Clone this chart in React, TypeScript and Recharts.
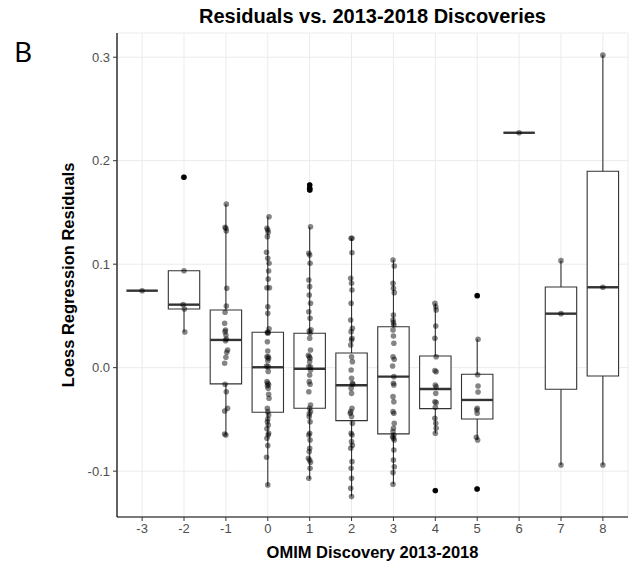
import React from "react";
import {
  ComposedChart,
  XAxis,
  YAxis,
  CartesianGrid,
  Scatter,
  ReferenceArea,
  ReferenceLine,
} from "recharts";

// categories on the x axis
const categories = [-3, -2, -1, 0, 1, 2, 3, 4, 5, 6, 7, 8];

// box statistics per category
const whiskerLow = [0.0744, 0.0345, -0.065, -0.1143, -0.1075, -0.1246, -0.1127, -0.0634, -0.0699, 0.227, -0.094, -0.094];
const quartile1 = [0.0744, 0.0567, -0.0157, -0.0431, -0.0392, -0.0512, -0.064, -0.0396, -0.0496, 0.227, -0.0209, -0.008];
const medians = [0.0744, 0.0609, 0.0268, 0.0004, -0.001, -0.017, -0.0087, -0.0206, -0.0312, 0.227, 0.0522, 0.0777];
const quartile3 = [0.0744, 0.0937, 0.0557, 0.0342, 0.0332, 0.0142, 0.0396, 0.0113, -0.0064, 0.227, 0.078, 0.1898];
const whiskerHigh = [0.0744, 0.0937, 0.158, 0.1459, 0.136, 0.125, 0.1041, 0.0622, 0.0274, 0.227, 0.1034, 0.302];

// outliers drawn by the boxplot [category, residual]
const outliers = [
  [-2, 0.184],
  [1, 0.1765],
  [1, 0.1733],
  [1, 0.1717],
  [4, -0.1188],
  [5, 0.0696],
  [5, -0.1172],
];

// jittered points per category: [x offset, residual]
const pointsM3 = [[0, 0.0744]];
const pointsM2 = [[-0.01, 0.184], [0, 0.0937], [-0.02, 0.0609], [0.01, 0.0567], [0.02, 0.0345]];
const pointsM1 = [
  [0.01, 0.158], [-0.02, 0.1357], [0, 0.1347], [0.01, 0.132], [0.02, 0.0767], [0.01, 0.0596],
  [-0.02, 0.0535], [-0.03, 0.0429], [-0.01, 0.0364], [-0.02, 0.0348], [0, 0.0316], [0.01, 0.0277],
  [-0.01, 0.0261], [0.04, 0.0171], [0.02, 0.0149], [0, 0.01], [-0.03, 0.0042], [-0.02, -0.016],
  [0.01, -0.0232], [0.04, -0.0393], [-0.03, -0.0418], [-0.03, -0.0641], [0, -0.065],
];
const points0 = [
  [0.03, 0.1459], [-0.02, 0.1347], [0, 0.133], [0.01, 0.1308], [-0.01, 0.1266], [-0.03, 0.1115],
  [0, 0.1057], [0.03, 0.1009], [0.02, 0.0934], [0.01, 0.0857], [-0.02, 0.0773], [0.04, 0.0773],
  [0, 0.0589], [0, 0.0525], [0.03, 0.0375], [-0.01, 0.0342], [0.01, 0.0342], [0, 0.0332],
  [-0.01, 0.0251], [0, 0.0161], [-0.02, 0.0106], [0.01, 0.0106], [0.02, 0.0091], [0, 0.0068],
  [-0.03, 0.0015], [0.01, 0.001], [0.01, -0.0036], [-0.02, -0.0135], [0, -0.0151], [0.02, -0.0165],
  [-0.01, -0.0174], [0.01, -0.0199], [0.02, -0.0257], [0.03, -0.0296], [-0.01, -0.0393],
  [0, -0.0425], [0.02, -0.0457], [0, -0.0496], [-0.01, -0.0522], [0.01, -0.0554], [-0.02, -0.059],
  [0.02, -0.0634], [0.01, -0.065], [-0.02, -0.0682], [0, -0.0753], [-0.03, -0.0866], [0, -0.1133],
];
const points1 = [
  [0, 0.1765], [0, 0.1733], [0.01, 0.1717], [0.02, 0.1362], [-0.02, 0.1105], [0, 0.1089],
  [0.01, 0.1009], [-0.02, 0.0847], [0, 0.0783], [-0.01, 0.0702], [0.02, 0.0622], [-0.02, 0.0541],
  [0.01, 0.0477], [0.03, 0.0365], [-0.01, 0.0355], [0.01, 0.0332], [0, 0.0284], [0.02, 0.0171],
  [-0.03, 0.012], [-0.01, 0.0106], [0.01, 0.0091], [0, 0.0058], [-0.02, 0.001], [0.02, 0.0005],
  [0.02, -0.0022], [0, -0.0071], [-0.01, -0.0135], [0.01, -0.016], [-0.02, -0.0232],
  [0.02, -0.036], [0, -0.0393], [0.02, -0.0425], [-0.01, -0.0445], [-0.01, -0.0473],
  [0.01, -0.0522], [0, -0.0634], [-0.02, -0.065], [0.01, -0.0699], [0, -0.0779], [-0.01, -0.0811],
  [-0.03, -0.0876], [0, -0.0892], [0.02, -0.0914], [0.01, -0.0972], [-0.02, -0.1069],
];
const points2 = [
  [-0.01, 0.125], [0.01, 0.125], [0.01, 0.1111], [-0.02, 0.0864], [0, 0.0816], [0.01, 0.0751],
  [-0.01, 0.0622], [-0.02, 0.046], [0.02, 0.0381], [-0.01, 0.0348], [0.01, 0.0284], [0, 0.0268],
  [-0.02, 0.0219], [0, 0.0106], [0.02, 0.0058], [-0.01, -0.0022], [0, -0.0103], [0.02, -0.0151],
  [0.03, -0.016], [-0.01, -0.0199], [0, -0.0248], [0.01, -0.0393], [-0.02, -0.0425],
  [-0.03, -0.044], [0, -0.0473], [0.02, -0.0538], [-0.01, -0.0634], [0.01, -0.065], [0, -0.0715],
  [0.02, -0.075], [-0.02, -0.0779], [0.01, -0.0908], [-0.01, -0.0972], [0, -0.1069],
  [-0.02, -0.1166], [0, -0.1246],
];
const points3 = [
  [-0.01, 0.1041], [0.02, 0.0983], [-0.01, 0.0815], [0, 0.0767], [0.02, 0.0725], [0, 0.0509],
  [-0.01, 0.0461], [0, 0.0435], [0.01, 0.0413], [-0.01, 0.0364], [0, 0.0306], [0.01, 0.0236],
  [-0.01, 0.0106], [0.02, 0.0081], [-0.02, 0.0016], [0.01, -0.0087], [0, -0.0151],
  [0.01, -0.0167], [-0.01, -0.028], [0.01, -0.0329], [-0.01, -0.0425], [0.01, -0.0441],
  [0.02, -0.0538], [0, -0.0586], [-0.01, -0.0618], [0.01, -0.065], [-0.02, -0.0667],
  [0, -0.0682], [0.02, -0.0699], [0.01, -0.0795], [0, -0.0892], [0.02, -0.0957],
  [-0.01, -0.1014], [-0.01, -0.1127],
];
const points4 = [
  [-0.01, 0.0622], [0.01, 0.0589], [0.02, 0.0557], [0.01, 0.0403], [-0.01, 0.0284], [0.02, 0.0106],
  [-0.01, -0.0029], [0.02, -0.0039], [0, -0.0167], [0.02, -0.0184], [0.01, -0.0248],
  [-0.01, -0.0329], [0.02, -0.0338], [0, -0.0383], [-0.01, -0.0489], [0.01, -0.0538],
  [0.02, -0.0586], [0, -0.0634], [0, -0.1188],
];
const points5 = [
  [0, 0.0696], [0.02, 0.0274], [0.01, -0.0068], [0.02, -0.0177], [0.02, -0.0235], [0, -0.0393],
  [-0.01, -0.0409], [0, -0.0441], [-0.02, -0.0673], [0.01, -0.0699], [-0.01, -0.1172],
];
const points6 = [[0, 0.227]];
const points7 = [[0, 0.1034], [0, 0.0522], [0, -0.094]];
const points8 = [[0, 0.302], [0, 0.0777], [0, -0.094]];

const pointsByCategory = [
  pointsM3, pointsM2, pointsM1, points0, points1, points2,
  points3, points4, points5, points6, points7, points8,
];

const yTicks = [-0.1, 0, 0.1, 0.2, 0.3];

const jitterData = pointsByCategory.flatMap((pts, i) =>
  pts.map(([dx, y]) => ({ x: categories[i] + dx, y }))
);
const outlierData = outliers.map(([x, y]) => ({ x, y }));

const BOX_HALF = 0.375;
const BOX_STROKE = "#333333";
const FONT = "'Liberation Sans', Arial, sans-serif";

const Dot = (props: any) => (
  <circle cx={props.cx} cy={props.cy} r={2.8} fill="#000" fillOpacity={0.48} />
);
const SolidDot = (props: any) => (
  <circle cx={props.cx} cy={props.cy} r={2.7} fill="#000" />
);

const App = () => {
  return (
    <div
      style={{
        position: "absolute",
        left: 0,
        top: 0,
        width: 631,
        height: 566,
        background: "#fff",
        fontFamily: FONT,
      }}
    >
      <ComposedChart
        width={631}
        height={566}
        margin={{ top: 33, right: 3, bottom: 0, left: 0 }}
      >
        <CartesianGrid stroke="#ebebeb" strokeWidth={1} />
        <XAxis
          type="number"
          dataKey="x"
          domain={[-3.6, 8.6]}
          ticks={categories}
          allowDataOverflow
          height={49}
          tickSize={4}
          tickMargin={3}
          axisLine={{ stroke: "#000", strokeWidth: 1.2 }}
          tickLine={{ stroke: "#333" }}
          tick={{ fill: "#4d4d4d", fontSize: 13, fontFamily: FONT }}
        />
        <YAxis
          type="number"
          dataKey="y"
          domain={[-0.1443, 0.3234]}
          ticks={yTicks}
          allowDataOverflow
          width={117}
          tickSize={4}
          tickMargin={3}
          tickFormatter={(v: number) => v.toFixed(1)}
          axisLine={{ stroke: "#000", strokeWidth: 1.2 }}
          tickLine={{ stroke: "#333" }}
          tick={{ fill: "#4d4d4d", fontSize: 13, fontFamily: FONT }}
        />
        {categories.map((c, i) =>
          quartile3[i] > quartile1[i] ? (
            <ReferenceArea
              key={`box${c}`}
              x1={c - BOX_HALF}
              x2={c + BOX_HALF}
              y1={quartile1[i]}
              y2={quartile3[i]}
              fill="#fff"
              fillOpacity={1}
              stroke={BOX_STROKE}
              strokeWidth={1.1}
            />
          ) : null
        )}
        {categories.map((c, i) =>
          whiskerHigh[i] > quartile3[i] ? (
            <ReferenceLine
              key={`wh${c}`}
              segment={[
                { x: c, y: quartile3[i] },
                { x: c, y: whiskerHigh[i] },
              ]}
              stroke={BOX_STROKE}
              strokeWidth={1.1}
            />
          ) : null
        )}
        {categories.map((c, i) =>
          whiskerLow[i] < quartile1[i] ? (
            <ReferenceLine
              key={`wl${c}`}
              segment={[
                { x: c, y: whiskerLow[i] },
                { x: c, y: quartile1[i] },
              ]}
              stroke={BOX_STROKE}
              strokeWidth={1.1}
            />
          ) : null
        )}
        {categories.map((c, i) => (
          <ReferenceLine
            key={`med${c}`}
            segment={[
              { x: c - BOX_HALF, y: medians[i] },
              { x: c + BOX_HALF, y: medians[i] },
            ]}
            stroke={BOX_STROKE}
            strokeWidth={2.4}
          />
        ))}
        <Scatter
          data={outlierData}
          dataKey="y"
          shape={SolidDot}
          isAnimationActive={false}
        />
        <Scatter
          data={jitterData}
          dataKey="y"
          shape={Dot}
          isAnimationActive={false}
        />
      </ComposedChart>

      <div
        style={{
          position: "absolute",
          left: 14,
          top: 37,
          fontFamily: "'Noto Sans', sans-serif",
          fontSize: 28,
          lineHeight: "28px",
          color: "#000",
        }}
      >
        B
      </div>
      <div
        style={{
          position: "absolute",
          left: 117,
          width: 511,
          top: 6,
          textAlign: "center",
          fontWeight: "bold",
          fontSize: 20,
          lineHeight: "20px",
          color: "#000",
          whiteSpace: "nowrap",
        }}
      >
        Residuals vs. 2013-2018 Discoveries
      </div>
      <div
        style={{
          position: "absolute",
          left: 117,
          width: 511,
          top: 544,
          textAlign: "center",
          fontWeight: "bold",
          fontSize: 16.5,
          lineHeight: "16.5px",
          color: "#000",
          whiteSpace: "nowrap",
        }}
      >
        OMIM Discovery 2013-2018
      </div>
      <div
        style={{
          position: "absolute",
          left: 68,
          top: 275,
          transform: "translate(-50%, -50%) rotate(-90deg)",
          fontWeight: "bold",
          fontSize: 16.5,
          lineHeight: "16.5px",
          color: "#000",
          whiteSpace: "nowrap",
        }}
      >
        Loess Regression Residuals
      </div>
    </div>
  );
};

export default App;
